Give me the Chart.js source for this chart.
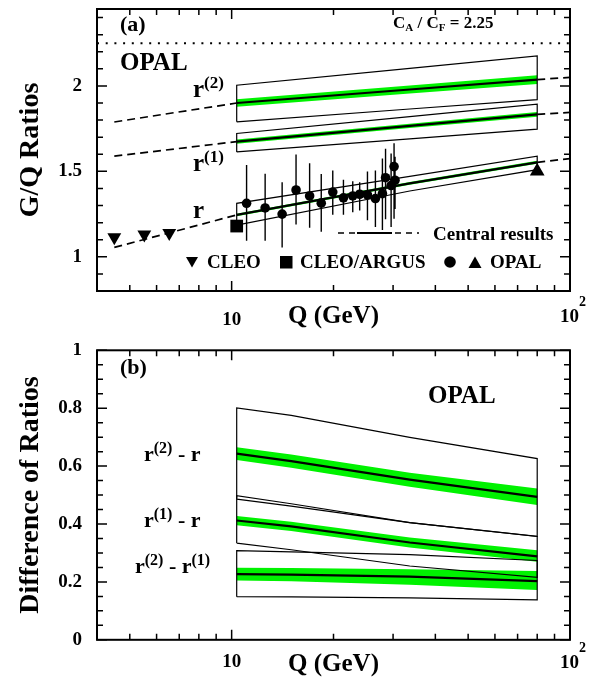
<!DOCTYPE html>
<html>
<head>
<meta charset="utf-8">
<script src="https://cdn.jsdelivr.net/npm/chart.js@4/dist/chart.umd.min.js"></script>
<style>
body { margin: 0; background: #fff; }
canvas { display: block; }
</style>
</head>
<body>
<canvas id="chartA" width="610" height="343"></canvas>
<canvas id="chartB" width="610" height="343"></canvas>
<script>
"use strict";
// ---- (a) G/Q ratios, Q in GeV ----
var qBox = [10.35, 33.6, 80];
var r2Top = [2.004, 2.103, 2.175];
var r2Hi = [1.922, 2.003, 2.063];
var r2Mid = [1.90, 1.979, 2.037];
var r2Lo = [1.878, 1.955, 2.011];
var r2Bot = [1.79, 1.865, 1.92];
var r1Top = [1.722, 1.82, 1.893];
var r1Hi = [1.686, 1.779, 1.847];
var r1Mid = [1.674, 1.766, 1.833];
var r1Lo = [1.662, 1.753, 1.819];
var r1Bot = [1.614, 1.69, 1.747];
var rTop = [1.313, 1.471, 1.589];
var rHi = [1.252, 1.438, 1.562];
var rMid = [1.245, 1.43, 1.553];
var rLo = [1.238, 1.422, 1.544];
var rBot = [1.185, 1.385, 1.51];

// extrapolations (dashed)
var qLowExt = [4.5, 10.35];
var qHighExt = [80, 100];
var r2LowExt = [1.789, 1.90];
var r2HighExt = [2.037, 2.05];
var r1LowExt = [1.589, 1.674];
var r1HighExt = [1.833, 1.845];
var rLowExt = [1.055, 1.245];
var rHighExt = [1.553, 1.575];

var caCf = 2.25;

var cleoQ = [4.5, 5.52, 6.54];
var cleoR = [1.115, 1.13, 1.14];
var argusQ = [10.35];
var argusR = [1.18];
var opalQ = [11.07, 12.56, 14.1, 15.5, 17.0, 18.4, 19.9, 21.4, 22.8, 23.9, 25.2, 26.6, 27.9, 28.5, 29.6, 30.2, 30.4];
var opalR = [1.313, 1.286, 1.25, 1.391, 1.356, 1.314, 1.379, 1.345, 1.356, 1.366, 1.362, 1.341, 1.37, 1.463, 1.417, 1.528, 1.448];
var opalErrHi = [1.537, 1.486, 1.437, 1.598, 1.547, 1.484, 1.505, 1.451, 1.442, 1.437, 1.499, 1.505, 1.575, 1.633, 1.604, 1.665, 1.585];
var opalErrLo = [1.094, 1.094, 1.055, 1.189, 1.17, 1.147, 1.246, 1.246, 1.261, 1.271, 1.214, 1.175, 1.157, 1.22, 1.175, 1.223, 1.28];
var opalTriQ = [80];
var opalTriR = [1.50];

// ---- (b) difference of ratios ----
var qDiff = [10.35, 15, 33.6, 80];
var d2rTop = [0.801, 0.775, 0.699, 0.626];
var d2rHi = [0.665, 0.64, 0.577, 0.523];
var d2rMid = [0.643, 0.617, 0.553, 0.494];
var d2rLo = [0.621, 0.594, 0.529, 0.466];
var d2rBot = [0.486, 0.462, 0.405, 0.357];
var d1rTop = [0.498, 0.47, 0.405, 0.357];
var d1rHi = [0.428, 0.408, 0.353, 0.309];
var d1rMid = [0.412, 0.392, 0.336, 0.288];
var d1rLo = [0.396, 0.376, 0.319, 0.27];
var d1rBot = [0.334, 0.311, 0.255, 0.216];
var d21Top = [0.308, 0.304, 0.294, 0.274];
var d21Hi = [0.249, 0.248, 0.244, 0.238];
var d21Mid = [0.227, 0.225, 0.218, 0.203];
var d21Lo = [0.205, 0.202, 0.19, 0.172];
var d21Bot = [0.149, 0.148, 0.145, 0.138];

// ticks
var xMajor = [10, 100];
var xLabels = ['10', ''];   // 10^2 is drawn with a real superscript below
var xMinor = [5, 6, 7, 8, 9, 20, 30, 40, 50, 60, 70, 80, 90];
var yMajorA = [1, 1.5, 2];
var yLabelsA = ['1', '1.5', '2'];
var yMinorA = [0.9, 1.1, 1.2, 1.3, 1.4, 1.6, 1.7, 1.8, 1.9, 2.1, 2.2, 2.3, 2.4];
var yMajorB = [0, 0.2, 0.4, 0.6, 0.8, 1];
var yLabelsB = ['0', '0.2', '0.4', '0.6', '0.8', '1'];
var yMinorB = [0.05, 0.1, 0.15, 0.25, 0.3, 0.35, 0.45, 0.5, 0.55, 0.65, 0.7, 0.75, 0.85, 0.9, 0.95];

var GREEN = 'rgb(0,242,0)';
var FONT = "'Liberation Serif', 'Times New Roman', serif";

Chart.defaults.font.family = FONT;
Chart.defaults.font.weight = 'bold';
Chart.defaults.color = '#000';

function pts(xs, ys) {
    return xs.map(function (x, i) { return { x: x, y: ys[i] }; });
}
function boxPts(xs, lo, hi) {
    var p = pts(xs, lo);
    return p.concat(pts(xs, hi).reverse(), [p[0]]);
}
function line(data, o) {
    return Object.assign({
        type: 'line', data: data, borderColor: '#000', borderWidth: 1.2,
        pointRadius: 0, fill: false, tension: 0, order: 3
    }, o || {});
}
function band(xs, hi, lo) {
    return [
        line(pts(xs, hi), { borderWidth: 0, fill: '+1', backgroundColor: GREEN, order: 5 }),
        line(pts(xs, lo), { borderWidth: 0, order: 5 })
    ];
}
function errBars(xs, lo, hi) {
    var d = [];
    xs.forEach(function (x, i) {
        d.push({ x: x, y: lo[i] }, { x: x, y: hi[i] }, { x: x, y: null });
    });
    return line(d, { borderWidth: 1.4, spanGaps: false, order: 2 });
}
function markers(xs, ys, style, r, rot) {
    return {
        type: 'line', data: pts(xs, ys), showLine: false, pointStyle: style,
        pointRadius: r, pointRotation: rot || 0, pointBackgroundColor: '#000',
        pointBorderColor: '#000', pointBorderWidth: 0, order: 0
    };
}

function runs(ctx, x, y, parts) {
    parts.forEach(function (p) {
        ctx.font = 'bold ' + p[1] + 'px ' + FONT;
        ctx.fillText(p[0], x, y + (p[2] || 0));
        x += ctx.measureText(p[0]).width;
    });
}

// inward ticks on all four sides plus the frame
var frameTicks = {
    id: 'frameTicks',
    afterDatasetsDraw: function (chart, args, o) {
        var ctx = chart.ctx, a = chart.chartArea, xs = chart.scales.x, ys = chart.scales.y;
        ctx.save();
        ctx.strokeStyle = '#000';
        ctx.lineWidth = 1.5;
        ctx.beginPath();
        function xt(v, len) {
            var px = xs.getPixelForValue(v);
            ctx.moveTo(px, a.bottom); ctx.lineTo(px, a.bottom - len);
            ctx.moveTo(px, a.top); ctx.lineTo(px, a.top + len);
        }
        function yt(v, len) {
            var py = ys.getPixelForValue(v);
            ctx.moveTo(a.left, py); ctx.lineTo(a.left + len, py);
            ctx.moveTo(a.right, py); ctx.lineTo(a.right - len, py);
        }
        o.xMajor.forEach(function (v) { xt(v, 10); });
        o.xMinor.forEach(function (v) { xt(v, 6); });
        o.yMajor.forEach(function (v) { yt(v, 10); });
        o.yMinor.forEach(function (v) { yt(v, 6); });
        ctx.stroke();
        ctx.lineWidth = 2;
        ctx.strokeRect(a.left, a.top, a.width, a.height);
        // 10^2 label under the right end of the axis
        var px = xs.getPixelForValue(100);
        runs(ctx, px - 10, a.bottom + o.hundredDy, [['10', 19], ['2', 14, -16]]);
        ctx.restore();
    }
};

var textPlugin = {
    id: 'texts',
    afterDraw: function (chart, args, o) {
        var ctx = chart.ctx;
        ctx.save();
        ctx.fillStyle = '#000';
        ctx.strokeStyle = '#000';
        ctx.textBaseline = 'alphabetic';
        ctx.textAlign = 'left';
        o.draw(ctx);
        ctx.restore();
    }
};

function xScale(labelPad, height, titlePad) {
    return {
        type: 'logarithmic', min: 4, max: 100,
        grid: { display: false, drawTicks: false },
        border: { display: false },
        afterBuildTicks: function (s) { s.ticks = xMajor.map(function (v) { return { value: v }; }); },
        afterFit: function (s) { s.height = height; s.paddingLeft = 0; s.paddingRight = 0; },
        ticks: {
            padding: labelPad, font: { size: 19 }, autoSkip: false, maxRotation: 0,
            callback: function (v) { return xLabels[xMajor.indexOf(v)]; }
        },
        title: { display: true, text: 'Q (GeV)', font: { size: 25 }, padding: { bottom: titlePad } }
    };
}
function yScale(min, max, major, labels, title) {
    return {
        min: min, max: max,
        grid: { display: false, drawTicks: false },
        border: { display: false },
        afterBuildTicks: function (s) { s.ticks = major.map(function (v) { return { value: v }; }); },
        afterFit: function (s) { s.width = 97; s.paddingTop = 0; s.paddingBottom = 0; },
        ticks: {
            padding: 15, font: { size: 19 },
            callback: function (v, i) { return labels[i]; }
        },
        title: { display: true, text: title, font: { size: 28 }, padding: { top: 14 } }
    };
}
function baseOptions(padTop, x, y, ticks, draw) {
    return {
        responsive: false, animation: false, events: [],
        layout: { padding: { left: 0, right: 40, top: padTop, bottom: 0 } },
        scales: { x: x, y: y },
        plugins: {
            legend: { display: false }, tooltip: { enabled: false },
            frameTicks: ticks, texts: { draw: draw }
        }
    };
}

// ---------- chart (a) ----------
var dsA = [];
dsA = dsA.concat(band(qBox, r2Hi, r2Lo), band(qBox, r1Hi, r1Lo), band(qBox, rHi, rLo));
dsA.push(
    line(boxPts(qBox, r2Bot, r2Top)),
    line(boxPts(qBox, r1Bot, r1Top)),
    line(boxPts(qBox, rBot, rTop)),
    line(pts(qBox, r2Mid), { borderWidth: 2.2, order: 1 }),
    line(pts(qBox, r1Mid), { borderWidth: 2.2, order: 1 }),
    line(pts(qBox, rMid), { borderWidth: 2.2, order: 1 }),
    line(pts(qLowExt, r2LowExt), { borderWidth: 1.7, borderDash: [8, 5] }),
    line(pts(qHighExt, r2HighExt), { borderWidth: 1.7, borderDash: [8, 5] }),
    line(pts(qLowExt, r1LowExt), { borderWidth: 1.7, borderDash: [8, 5] }),
    line(pts(qHighExt, r1HighExt), { borderWidth: 1.7, borderDash: [8, 5] }),
    line(pts(qLowExt, rLowExt), { borderWidth: 1.7, borderDash: [8, 5] }),
    line(pts(qHighExt, rHighExt), { borderWidth: 1.7, borderDash: [8, 5] }),
    line(pts([4, 100], [caCf, caCf]), { borderWidth: 2, borderDash: [2, 6.7] }),
    errBars(opalQ, opalErrLo, opalErrHi),
    markers(cleoQ, cleoR, 'triangle', 8, 180),
    markers(argusQ, argusR, 'rect', 9),
    markers(opalQ, opalR, 'circle', 4.8),
    markers(opalTriQ, opalTriR, 'triangle', 8.5)
);

function drawA(ctx) {
    runs(ctx, 120, 31, [['(a)', 22]]);
    runs(ctx, 120, 70, [['OPAL', 25]]);
    runs(ctx, 393, 27.5, [['C', 17], ['A', 11, 3], [' / C', 17], ['F', 11, 3], [' = 2.25', 17]]);
    runs(ctx, 193, 97, [['r', 25], ['(2)', 17, -9]]);
    runs(ctx, 193, 171, [['r', 25], ['(1)', 17, -9]]);
    runs(ctx, 193, 218, [['r', 25]]);
    // legend: central results
    ctx.lineWidth = 1.7;
    ctx.beginPath();
    ctx.setLineDash([6, 5]);
    ctx.moveTo(338, 233); ctx.lineTo(357, 233);
    ctx.moveTo(395, 233); ctx.lineTo(419, 233);
    ctx.stroke();
    ctx.setLineDash([]);
    ctx.lineWidth = 2.2;
    ctx.beginPath(); ctx.moveTo(357, 233); ctx.lineTo(392, 233); ctx.stroke();
    runs(ctx, 433, 239.5, [['Central results', 19]]);
    // legend: data symbols
    ctx.beginPath(); ctx.moveTo(186, 257); ctx.lineTo(198, 257); ctx.lineTo(192, 267.5); ctx.closePath(); ctx.fill();
    runs(ctx, 207, 268, [['CLEO', 19]]);
    ctx.fillRect(280, 256, 12.5, 12.5);
    runs(ctx, 300, 268, [['CLEO/ARGUS', 19]]);
    ctx.beginPath(); ctx.arc(450, 262, 5.8, 0, 2 * Math.PI); ctx.fill();
    ctx.beginPath(); ctx.moveTo(468.5, 268); ctx.lineTo(481.5, 268); ctx.lineTo(475, 256.5); ctx.closePath(); ctx.fill();
    runs(ctx, 490, 268, [['OPAL', 19]]);
}

new Chart(document.getElementById('chartA'), {
    type: 'line',
    data: { datasets: dsA },
    options: baseOptions(2, xScale(17.5, 52, 11), yScale(0.8, 2.45, yMajorA, yLabelsA, 'G/Q Ratios'),
        { xMajor: xMajor, xMinor: xMinor, yMajor: yMajorA, yMinor: yMinorA, hundredDy: 31 }, drawA),
    plugins: [frameTicks, textPlugin]
});

// ---------- chart (b) ----------
var dsB = [];
dsB = dsB.concat(band(qDiff, d2rHi, d2rLo), band(qDiff, d1rHi, d1rLo), band(qDiff, d21Hi, d21Lo));
dsB.push(
    line(boxPts(qDiff, d2rBot, d2rTop)),
    line(boxPts(qDiff, d1rBot, d1rTop)),
    line(boxPts(qDiff, d21Bot, d21Top)),
    line(pts(qDiff, d2rMid), { borderWidth: 2.2, order: 1 }),
    line(pts(qDiff, d1rMid), { borderWidth: 2.2, order: 1 }),
    line(pts(qDiff, d21Mid), { borderWidth: 2.2, order: 1 })
);

function drawB(ctx) {
    runs(ctx, 120, 31, [['(b)', 22]]);
    runs(ctx, 428, 60, [['OPAL', 25]]);
    runs(ctx, 144, 117.5, [['r', 22], ['(2)', 16, -8], [' - r', 22]]);
    runs(ctx, 144, 184, [['r', 22], ['(1)', 16, -8], [' - r', 22]]);
    runs(ctx, 135, 230, [['r', 22], ['(2)', 16, -8], [' - r', 22], ['(1)', 16, -8]]);
}

new Chart(document.getElementById('chartB'), {
    type: 'line',
    data: { datasets: dsB },
    options: baseOptions(7.3, xScale(11, 46.2, 6), yScale(0, 1, yMajorB, yLabelsB, 'Difference of Ratios'),
        { xMajor: xMajor, xMinor: xMinor, yMajor: yMajorB, yMinor: yMinorB, hundredDy: 28 }, drawB),
    plugins: [frameTicks, textPlugin]
});
</script>
</body>
</html>
